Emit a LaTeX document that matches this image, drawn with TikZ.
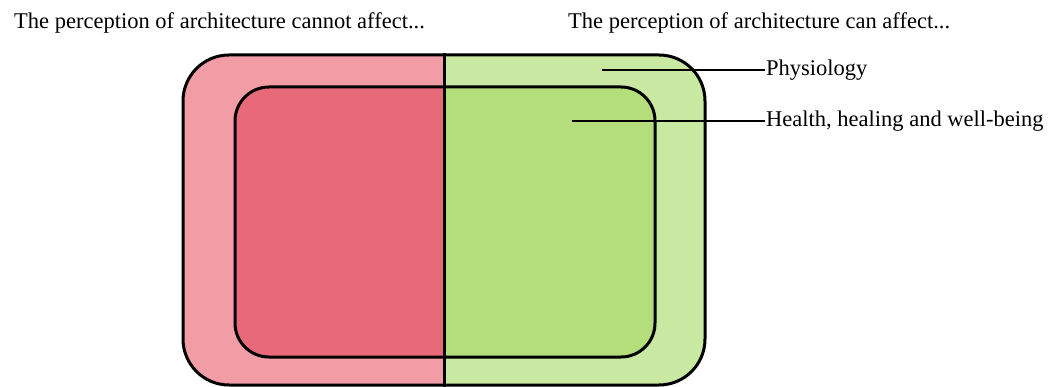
\documentclass[tikz,border=0pt]{standalone}
\usepackage{fontspec}
\setmainfont{Liberation Serif}
\usetikzlibrary{positioning, calc}
\definecolor{redOuter}{HTML}{F29CA6}
\definecolor{redInner}{HTML}{E8697A}
\definecolor{greenOuter}{HTML}{C9E8A2}
\definecolor{greenInner}{HTML}{B3DE7B}
\tikzset{
    font=\fontsize{22.5}{26}\selectfont,
    perc_box/.style={
        rectangle,
        draw=black,
        line width=3pt,
        inner sep=0pt
    },
    perc_outer/.style={
        perc_box,
        rounded corners=46pt,
        minimum width=522pt,
        minimum height=330pt,
        path picture={
            \fill[redOuter, sharp corners] (path picture bounding box.south west) rectangle (path picture bounding box.north);
            \fill[greenOuter, sharp corners] (path picture bounding box.south) rectangle (path picture bounding box.north east);
        }
    },
    perc_inner/.style={
        perc_box,
        rounded corners=34pt,
        minimum width=420pt,
        minimum height=270pt,
        path picture={
            \fill[redInner, sharp corners] (path picture bounding box.south west) rectangle (path picture bounding box.north);
            \fill[greenInner, sharp corners] (path picture bounding box.south) rectangle (path picture bounding box.north east);
        }
    },
    perc_heading/.style={
        anchor=base west,
        inner sep=0pt
    },
    perc_label/.style={
        anchor=west,
        inner sep=1pt
    },
    perc_leader/.style={
        line width=2pt
    }
}

\begin{document}
\begin{tikzpicture}[x=1pt, y=-1pt]
\useasboundingbox (0,0) rectangle (1049,387);

\node[perc_heading] (cannot) at (14,29) {The perception of architecture cannot affect...};
\node[perc_heading] (can) at (568,29) {The perception of architecture can affect...};

\node[perc_outer] (outer) at (444,220) {};
\node[perc_inner] (inner) at (445,222) {};
\draw[line width=3pt] (outer.north) -- (outer.south);

\coordinate (physPt) at (602,70);
\coordinate (healthPt) at (572,121);
\node[perc_label] (phys) at (765,70) {Physiology};
\node[perc_label] (health) at (765,121) {Health, healing and well-being};

\draw[perc_leader] (physPt) -- (phys.west);
\draw[perc_leader] (healthPt) -- (health.west);

\end{tikzpicture}
\end{document}
